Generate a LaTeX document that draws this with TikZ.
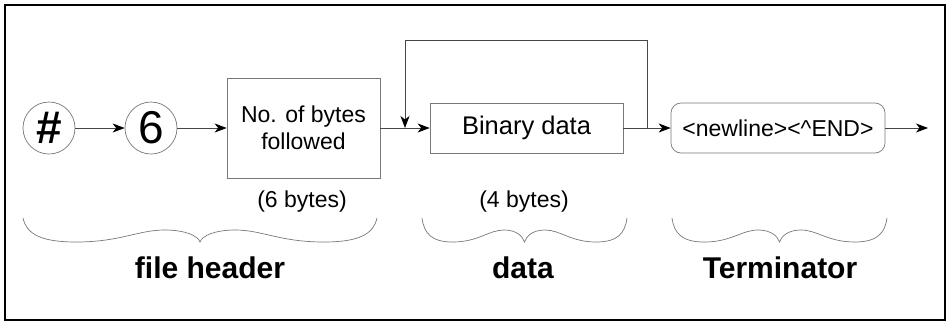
\documentclass[tikz,border=0pt]{standalone}
\usepackage{fontspec}
\setmainfont{Liberation Sans}
\usetikzlibrary{arrows.meta}
\definecolor{boxgray}{RGB}{120,120,120}
\definecolor{linegray}{RGB}{70,70,70}

\begin{document}
\begin{tikzpicture}[x=1pt,y=-1pt,
  token/.style={circle,draw=boxgray,line width=0.7pt,minimum size=52pt,inner sep=0pt},
  field/.style={rectangle,draw=boxgray,line width=0.7pt,inner sep=0pt,align=center,
    font=\fontsize{23}{27}\selectfont},
  flow/.style={draw=linegray,line width=0.8pt,-{Stealth[length=12pt,width=9pt,inset=3.5pt,color=black]}},
  bracel/.style={draw=boxgray,line width=0.7pt},
  note/.style={font=\fontsize{23}{28}\selectfont},
  part/.style={font=\fontsize{30}{36}\selectfont\bfseries}]
\useasboundingbox (0,0) rectangle (947,322);
\draw[line width=2pt] (5,5) rectangle (945,320);

% header tokens and fields
\node[token,font=\fontsize{46}{50}\selectfont\bfseries] (hash) at (49,128) {\#};
\node[token,font=\fontsize{46}{50}\selectfont] (six) at (151,128) {6};
\node[field,minimum width=153pt,minimum height=100pt] (count) at (303.5,128) {No. of bytes\\followed};
\node[field,minimum width=193pt,minimum height=50pt,font=\fontsize{25.5}{30}\selectfont] (bin) at (526.5,128) {Binary data};
\node[field,rounded corners=10pt,minimum width=214pt,minimum height=50pt] (term) at (778,128) {<newline><\^{}END>};

\coordinate (loopin) at (405,128);
\coordinate (loopout) at (647,128);
\coordinate (exit) at (928,128);

\draw[flow] (hash) -- (six);
\draw[flow] (six) -- (count);
\draw[flow] (count.east) -- (bin.west);
\draw[flow] (bin.east) -- (term.west);
\draw[flow] (loopout) -- (647,40) -| (loopin);
\draw[flow] (term.east) -- (exit);

% sizes
\node[note] (size6) at (302,202) {(6 bytes)};
\node[note] (size4) at (524,202) {(4 bytes)};

% braces
\foreach \l/\r in {23/377, 422/627, 672/887} {
  \pgfmathsetmacro{\m}{(\l+\r)/2}
  \pgfmathsetmacro{\h}{(\r-\l)/2}
  \draw[bracel] (\l,218) .. controls ({\l+0.02*\h},234) and ({\l+0.1*\h},242) .. ({\l+0.3*\h},242)
    .. controls ({\l+0.55*\h},242) and ({\l+0.65*\h},230) .. ({\l+0.8*\h},230)
    .. controls ({\l+0.92*\h},230) and ({\m-2},236) .. (\m,242)
    .. controls ({\m+2},236) and ({\r-0.92*\h},230) .. ({\r-0.8*\h},230)
    .. controls ({\r-0.65*\h},230) and ({\r-0.55*\h},242) .. ({\r-0.3*\h},242)
    .. controls ({\r-0.1*\h},242) and ({\r-0.02*\h},234) .. (\r,218);
}

\node[part] (header) at (210,268) {file header};
\node[part] (data) at (523,268) {data};
\node[part] (ending) at (780,268) {Terminator};
\end{tikzpicture}
\end{document}
